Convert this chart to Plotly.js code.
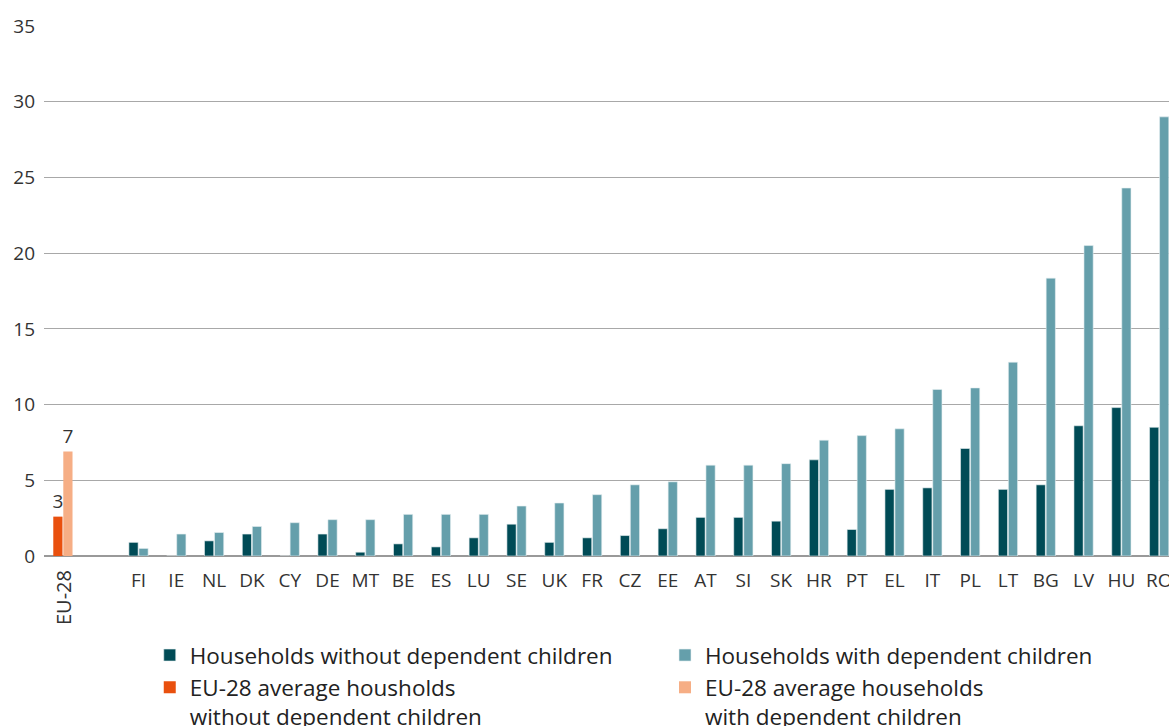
<!DOCTYPE html>
<html>
<head>
<meta charset="utf-8">
<script src="https://cdn.plot.ly/plotly-3.0.1.min.js"></script>
<style>html,body{margin:0;padding:0;background:#fff;}#chart{width:1169px;height:726px;}</style>
</head>
<body>
<div id="chart"></div>
<script>
const eu28Label = "EU-28";
const countries = ["FI","IE","NL","DK","CY","DE","MT","BE","ES","LU","SE","UK","FR","CZ","EE","AT","SI","SK","HR","PT","EL","IT","PL","LT","BG","LV","HU","RO"];
const withoutChildren = [0.9,0,1.0,1.45,0,1.45,0.25,0.8,0.6,1.2,2.1,0.9,1.2,1.35,1.8,2.55,2.55,2.3,6.35,1.75,4.4,4.5,7.1,4.4,4.7,8.6,9.8,8.5];
const withChildren = [0.5,1.45,1.55,1.95,2.2,2.4,2.4,2.75,2.75,2.75,3.3,3.5,4.05,4.7,4.9,6.0,6.0,6.1,7.65,7.95,8.4,11.0,11.1,12.8,18.35,20.5,24.3,29.0];
const eu28Without = [2.6];
const eu28With = [6.9];
const eu28WithoutText = ["3"];
const eu28WithText = ["7"];
const seriesNames = ["Households without dependent children","Households with dependent children","EU-28 average housholds<br>without dependent children","EU-28 average households<br>with dependent children"];
const yTicks = [0,5,10,15,20,25,30,35];

const categoryOrder = [eu28Label, " "].concat(countries);
const txtFont = {family:"Open Sans, sans-serif", size:19, color:"#333"};

const traces = [
  {type:"bar", name:seriesNames[0], x:countries, y:withoutChildren, offsetgroup:"a", legend:"legend", legendgroup:"g1", marker:{color:"#004b56", line:{color:"#e8f0f1", width:0.6}}, hoverinfo:"skip"},
  {type:"bar", name:seriesNames[1], x:countries, y:withChildren, offsetgroup:"b", legend:"legend2", legendgroup:"g2", marker:{color:"#659fab", line:{color:"#e8f0f1", width:0.6}}, hoverinfo:"skip"},
  {type:"bar", name:seriesNames[2], x:[eu28Label], y:eu28Without, offsetgroup:"a", legend:"legend", legendgroup:"g3", text:eu28WithoutText, textposition:"outside", constraintext:"none", textfont:txtFont, cliponaxis:false, marker:{color:"#e9500e"}, hoverinfo:"skip"},
  {type:"bar", name:seriesNames[3], x:[eu28Label], y:eu28With, offsetgroup:"b", legend:"legend2", legendgroup:"g4", text:eu28WithText, textposition:"outside", constraintext:"none", textfont:txtFont, cliponaxis:false, marker:{color:"#f6ae85"}, hoverinfo:"skip"}
];

const legendFont = {family:"Open Sans, sans-serif", size:22.5, color:"#222"};
const layout = {
  width:1169, height:726,
  margin:{l:44, r:0, t:26, b:170, autoexpand:false},
  paper_bgcolor:"#fff", plot_bgcolor:"#fff",
  barmode:"group", bargap:0.47, bargroupgap:0.08,
  font:{family:"Open Sans, sans-serif", size:19, color:"#333"},
  xaxis:{type:"category", categoryorder:"array", categoryarray:categoryOrder,
         range:[-0.5, 29.26], tickvals:countries, ticktext:countries, tickangle:0,
         showgrid:false, showline:false, zeroline:false, ticks:"", tickfont:{size:19, color:"#333"},
         ticklabelstandoff:11, automargin:false},
  yaxis:{range:[0,35], tickvals:yTicks, showgrid:true, gridcolor:"#a8a8a8", gridwidth:1,
         zeroline:true, zerolinecolor:"#999", zerolinewidth:2, showline:false, ticks:"",
         tickfont:{size:19, color:"#333"}, ticklabelstandoff:8, automargin:false},
  showlegend:true,
  legend:{orientation:"v", x:0.094, xanchor:"left", y:-0.147, yanchor:"top",
          traceorder:"normal", font:legendFont, tracegroupgap:4, valign:"top"},
  legend2:{orientation:"v", x:0.552, xanchor:"left", y:-0.147, yanchor:"top",
          traceorder:"normal", font:legendFont, tracegroupgap:4, valign:"top"},
  annotations:[{text:eu28Label, x:eu28Label, xref:"x", y:-0.022, yref:"paper", yanchor:"top",
                textangle:-90, showarrow:false, font:{size:20, color:"#333"}}]
};

Plotly.newPlot("chart", traces, layout, {displayModeBar:false, staticPlot:true});
</script>
</body>
</html>
